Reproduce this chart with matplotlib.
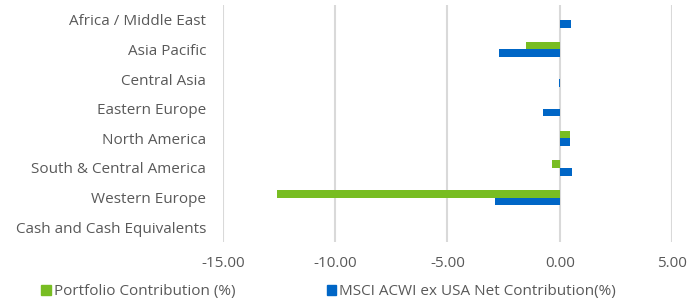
import matplotlib
matplotlib.use("Agg")
import matplotlib.pyplot as plt
import numpy as np
from matplotlib.patches import Patch

categories = ["Africa / Middle East", "Asia Pacific", "Central Asia", "Eastern Europe",
              "North America", "South & Central America", "Western Europe",
              "Cash and Cash Equivalents"]
portfolio = [0.0, -1.52, 0.0, 0.0, 0.46, -0.36, -12.61, 0.0]
benchmark = [0.49, -2.71, -0.03, -0.73, 0.46, 0.53, -2.87, 0.0]
series_names = ["Portfolio Contribution (%)", "MSCI ACWI ex USA Net Contribution(%)"]
xticks = [-15, -10, -5, 0, 5]

green = "#78bd22"
blue = "#0066c6"
text_color = "#595959"

plt.rcParams['font.family'] = ['Open Sans', 'DejaVu Sans']

fig = plt.figure(figsize=(6.91, 2.98), dpi=100)
ax = fig.add_axes([0.3227, 0.188, 0.6498, 0.795])

y = np.arange(len(categories))
h = 0.26
ax.barh(y - h / 2, portfolio, height=h, color=green, label=series_names[0], zorder=3)
ax.barh(y + h / 2, benchmark, height=h, color=blue, label=series_names[1], zorder=3)

ax.set_xlim(-15, 5)
ax.set_ylim(len(categories) - 0.5, -0.5)
ax.set_xticks(xticks)
ax.set_xticklabels([f"{v:.2f}" for v in xticks])
ax.set_yticks(y)
ax.set_yticklabels(categories)
ax.tick_params(axis='both', length=0, labelsize=11, colors=text_color)
ax.tick_params(axis='x', pad=10)
ax.tick_params(axis='y', pad=12)
for s in ax.spines.values():
    s.set_visible(False)
ax.grid(axis='x', color="#d9d9d9", linewidth=1.5, zorder=0)
ax.set_axisbelow(True)

handles = [Patch(color=green), Patch(color=blue)]
fig.legend(handles, series_names, loc='lower left', bbox_to_anchor=(0.04, -0.05),
           ncol=2, frameon=False, handlelength=0.6, handleheight=0.6,
           handletextpad=0.2, columnspacing=6.0, fontsize=11, labelcolor=text_color)

fig.savefig("out.png", dpi=100)
